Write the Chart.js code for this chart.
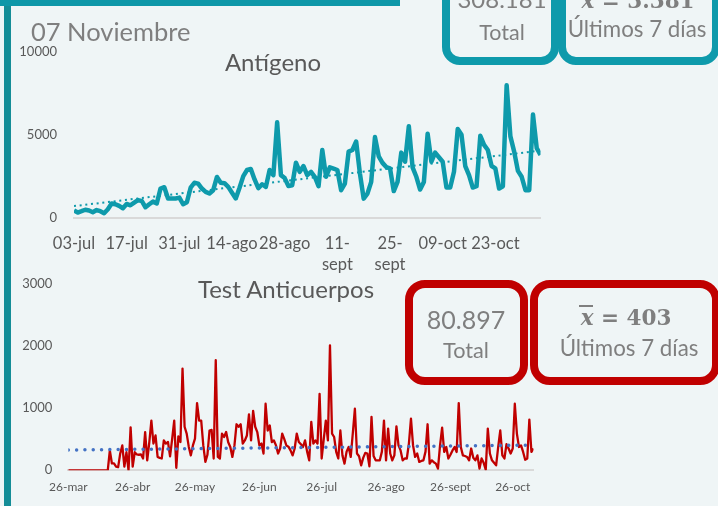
<!DOCTYPE html>
<html>
<head>
<meta charset="utf-8">
<script src="https://cdn.jsdelivr.net/npm/chart.js@4.4.0/dist/chart.umd.min.js"></script>
<style>
body { margin: 0; background: #eff5f6; }
#page { position: relative; width: 718px; height: 506px; overflow: hidden; background: #eff5f6; font-family: Lato, sans-serif; }
.abs { position: absolute; }
.box { position: absolute; box-sizing: border-box; border-radius: 18px; }
.teal { border: 8px solid #0e9aab; }
.red { border: 8px solid #c00000; }
.t { position: absolute; white-space: nowrap; transform: translateX(-50%); color: #7f7f7f; line-height: 1; }
.math { font-family: "DejaVu Serif", serif; font-weight: bold; }
</style>
</head>
<body>
<div id="page">
  <div class="abs" style="left:4px;top:0;width:7px;height:506px;background:#148d97"></div>
  <div class="abs" style="left:0;top:0;width:400px;height:6px;background:#0e97a8"></div>

  <div class="abs" style="left:0;top:40px;width:560px;height:240px"><canvas id="antChart"></canvas></div>
  <div class="abs" style="left:0;top:270px;width:560px;height:236px"><canvas id="antiChart"></canvas></div>

  <div class="t" style="left:31px;top:19px;transform:none;font-size:25.5px">07 Noviembre</div>
  <div class="t" style="left:273px;top:50px;font-size:24px;color:#595959">Antígeno</div>
  <div class="t" style="left:286px;top:277px;font-size:24px;color:#595959">Test Anticuerpos</div>

  <div class="box teal" style="left:442px;top:-40px;width:117px;height:105px"></div>
  <div class="box teal" style="left:558px;top:-40px;width:162px;height:105px"></div>
  <div class="t" style="left:502px;top:-13px;font-size:24px">308.181</div>
  <div class="t" style="left:502px;top:22px;font-size:21.5px">Total</div>
  <div class="t math" style="left:638px;top:-10px;font-size:21.5px"><i>x</i> = 3.381</div>
  <div class="t" style="left:637px;top:18px;font-size:22.3px">Últimos 7 días</div>

  <div class="box red" style="left:405px;top:280px;width:123px;height:105px;border-radius:20px"></div>
  <div class="box red" style="left:530px;top:280px;width:190px;height:105px;border-radius:20px"></div>
  <div class="t" style="left:466px;top:307px;font-size:25px">80.897</div>
  <div class="t" style="left:466px;top:340px;font-size:21.7px">Total</div>
  <div class="t math" style="left:626px;top:307px;font-size:21.5px"><i>x</i> = 403</div>
  <div class="abs" style="left:579px;top:305px;width:14px;height:2px;background:#7f7f7f"></div>
  <div class="t" style="left:629px;top:337px;font-size:22.3px">Últimos 7 días</div>
</div>

<script>
// Antígeno: daily values from 03-jul, one tick label every 14 days
const antTickLabels = ['03-jul', '17-jul', '31-jul', '14-ago', '28-ago', ['11-', 'sept'], ['25-', 'sept'], '09-oct', '23-oct'];
const antTickStep = 14;
const antYTicks = [0, 5000, 10000];
const antTrend = [690, 4040];
const antValues = [
    430, 300, 380, 470, 420, 320, 450, 380, 260, 500,
    850, 800, 700, 560, 820, 740, 900, 1050, 1000, 620,
    800, 960, 850, 1750, 1830, 1150, 1150, 1150, 1200, 800,
    920, 1800, 2100, 2050, 1750, 1550, 1450, 1650, 2450, 2100,
    2070, 1850, 1500, 1150, 1800, 2500, 2870, 2930, 2300, 1770,
    2010, 1850, 2870, 2560, 5750, 2560, 2380, 1900, 1950, 3310,
    2760, 3110, 2560, 2760, 2460, 1890, 4080, 2460, 3030, 2950,
    2870, 1650, 2050, 3980, 4080, 4590, 2660, 1140, 1440, 2150,
    4860, 3700, 3300, 3050, 2970, 1600, 2150, 3920, 3370, 5510,
    3030, 2460, 1690, 2150, 5060, 3370, 3920, 3640, 3370, 1810,
    1810, 2760, 5350, 5000, 3110, 2560, 1810, 1890, 4940, 4390,
    4080, 3110, 2970, 1750, 1890, 7990, 4900, 3980, 2820, 2460,
    1650, 1650, 6220, 4190, 3780
];

// Test Anticuerpos: daily values from 26-mar, ticks on the 26th of each month
const antiTickLabels = ['26-mar', '26-abr', '26-may', '26-jun', '26-jul', '26-ago', '26-sept', '26-oct'];
const antiTickDays = [0, 31, 61, 92, 122, 153, 184, 214];
const antiYTicks = [0, 1000, 2000, 3000];
const antiTrend = [326, 405];
const antiValues = [
    0, 0, 0, 0, 0, 0, 0, 0, 0, 0,
    0, 0, 0, 0, 0, 0, 0, 0, 0, 0,
    320, 110, 110, 60, 50, 270, 400, 60, 290, 0,
    690, 60, 290, 255, 250, 255, 190, 615, 160, 450,
    800, 430, 560, 215, 200, 190, 480, 430, 455, 225,
    500, 800, 40, 545, 455, 1635, 700, 590, 380, 240,
    400, 510, 1080, 800, 800, 400, 135, 250, 640, 650,
    190, 1770, 215, 190, 590, 535, 615, 450, 375, 215,
    400, 740, 700, 740, 430, 480, 560, 900, 480, 955,
    700, 615, 400, 430, 270, 1070, 640, 720, 455, 480,
    400, 270, 350, 590, 500, 400, 380, 320, 240, 350,
    590, 455, 420, 375, 480, 300, 160, 780, 430, 480,
    430, 1230, 190, 500, 800, 480, 2010, 590, 535, 295,
    190, 640, 240, 107, 300, 375, 215, 600, 990, 270,
    225, 80, 200, 280, 270, 64, 860, 230, 160, 160,
    160, 300, 800, 160, 670, 270, 160, 240, 705, 400,
    320, 160, 190, 190, 430, 830, 400, 215, 270, 135,
    150, 160, 300, 740, 107, 160, 130, 107, 27, 400,
    685, 295, 375, 190, 250, 320, 375, 295, 1080, 375,
    240, 230, 215, 160, 350, 200, 160, 240, 27, 190,
    120, 10, 670, 270, 160, 120, 80, 375, 640, 240,
    190, 420, 350, 270, 350, 1070, 590, 375, 400, 295,
    170, 190, 815, 295, 350
];

const tickColor = '#595959';

function makeChart(id, cfg) {
    const last = cfg.values.length - 1;
    return new Chart(document.getElementById(id), {
        type: 'line',
        data: {
            datasets: [
                {
                    data: [{ x: 0, y: cfg.trend[0] }, { x: last, y: cfg.trend[1] }],
                    borderColor: cfg.trendColor,
                    borderWidth: cfg.trendWidth,
                    borderDash: cfg.trendDash,
                    borderCapStyle: cfg.trendCap,
                    pointRadius: 0
                },
                {
                    data: cfg.values.map((v, i) => ({ x: i, y: v })),
                    borderColor: cfg.color,
                    borderWidth: cfg.width,
                    borderJoinStyle: 'round',
                    pointRadius: 0,
                    tension: 0
                }
            ]
        },
        options: {
            animation: false,
            responsive: true,
            maintainAspectRatio: false,
            layout: { padding: cfg.padding },
            plugins: { legend: { display: false }, tooltip: { enabled: false } },
            scales: {
                x: {
                    type: 'linear',
                    min: 0,
                    max: last,
                    afterBuildTicks: s => { s.ticks = cfg.xTickPos.map(v => ({ value: v })); },
                    afterFit: s => { s.height = cfg.xHeight; },
                    ticks: {
                        autoSkip: false,
                        maxRotation: 0,
                        padding: cfg.xPad,
                        color: tickColor,
                        font: { family: 'Lato', size: cfg.xFont, lineHeight: 1.27 },
                        callback: v => cfg.xLabels[cfg.xTickPos.indexOf(v)]
                    },
                    grid: { display: false, drawTicks: false },
                    border: { color: '#d9d9d9', width: 2 }
                },
                y: {
                    min: 0,
                    max: cfg.yTicks[cfg.yTicks.length - 1],
                    afterBuildTicks: s => { s.ticks = cfg.yTicks.map(v => ({ value: v })); },
                    afterFit: s => {
                        s.width = cfg.yWidth;
                        s.paddingTop = 0;
                        s.paddingBottom = 0;
                    },
                    ticks: {
                        padding: cfg.yPad,
                        color: tickColor,
                        font: { family: 'Lato', size: 13 },
                        callback: v => String(v)
                    },
                    grid: { display: false, drawTicks: false },
                    border: { display: false }
                }
            }
        }
    });
}

makeChart('antChart', {
    values: antValues,
    trend: antTrend,
    color: '#0e9aab',
    width: 4.5,
    trendColor: '#0e9aab',
    trendWidth: 2,
    trendDash: [2, 3.7],
    trendCap: 'butt',
    xTickPos: antTickLabels.map((l, i) => i * antTickStep),
    xLabels: antTickLabels,
    yTicks: antYTicks,
    padding: { left: 0, right: 19.5, top: 12, bottom: 0 },
    xHeight: 62.5,
    xPad: 16,
    xFont: 16.5,
    yWidth: 74,
    yPad: 17
});

makeChart('antiChart', {
    values: antiValues,
    trend: antiTrend,
    color: '#c00000',
    width: 2.3,
    trendColor: '#4472c4',
    trendWidth: 3.5,
    trendDash: [0.01, 8.3],
    trendCap: 'round',
    xTickPos: antiTickDays,
    xLabels: antiTickLabels,
    yTicks: antiYTicks,
    padding: { left: 0, right: 26.5, top: 13.7, bottom: 0 },
    xHeight: 35.7,
    xPad: 9,
    xFont: 12,
    yWidth: 68.3,
    yPad: 16
});
</script>
</body>
</html>
